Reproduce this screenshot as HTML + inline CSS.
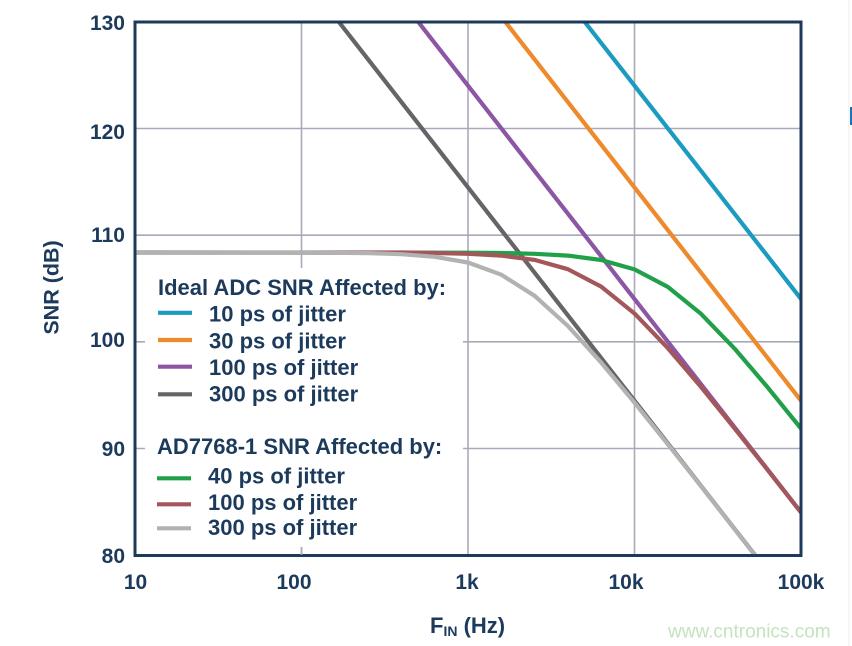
<!DOCTYPE html>
<html>
<head>
<meta charset="utf-8">
<style>
  html, body { margin:0; padding:0; background:#ffffff; }
  body { width:852px; height:646px; overflow:hidden; }
  svg { display:block; }
  text { font-family:"Liberation Sans", Arial, sans-serif; }
</style>
</head>
<body>
<svg width="852" height="646" viewBox="0 0 852 646" xmlns="http://www.w3.org/2000/svg">
  <defs>
    <clipPath id="plot">
      <rect x="135" y="22" width="666" height="533.5"/>
    </clipPath>
  </defs>
  <rect x="0" y="0" width="852" height="646" fill="#ffffff"/>
  <!-- right edge decorations -->
  <rect x="848.5" y="0" width="1" height="646" fill="#ececec"/>
  <rect x="850" y="107" width="2" height="18" fill="#1a73c0"/>

  <!-- gridlines -->
  <g stroke="#a9a9ba" stroke-width="1.6" fill="none">
    <line x1="135" y1="128.5" x2="801" y2="128.5"/>
    <line x1="135" y1="235.2" x2="801" y2="235.2"/>
    <line x1="135" y1="341.8" x2="801" y2="341.8"/>
    <line x1="135" y1="448.5" x2="801" y2="448.5"/>
    <line x1="301.5" y1="22" x2="301.5" y2="555"/>
    <line x1="468" y1="22" x2="468" y2="555"/>
    <line x1="634.5" y1="22" x2="634.5" y2="555"/>
  </g>
  <!-- legend background -->
  <rect x="145" y="268" width="318" height="279" fill="#ffffff"/>

  <g clip-path="url(#plot)" fill="none" stroke-width="4.2" stroke-linejoin="round" stroke-linecap="butt">
    <!-- ideal lines -->
    <line x1="584.8" y1="22" x2="801" y2="298.9" stroke="#1b9bbf"/>
    <line x1="505.4" y1="22" x2="801" y2="400.7" stroke="#ee8a2c"/>
    <line x1="418.3" y1="22" x2="801" y2="512.3" stroke="#8c56a4"/>
    <line x1="338.9" y1="22" x2="755.2" y2="555.3" stroke="#656567"/>
    <!-- AD7768-1 curves -->
    <polyline stroke="#21a04a" points="135,252.5 468,252.7 501.3,253.0 534.6,253.8 567.9,255.6 601.2,260.0 634.5,269.4 667.8,286.9 701.1,313.9 734.4,348.4 767.7,387.4 801,428.5"/>
    <polyline stroke="#a4575a" points="135,252.5 401.4,252.5 434.7,253.0 468,253.8 501.3,255.6 534.6,259.9 567.9,269.2 601.2,286.6 634.5,313.5 667.8,348.1 701.1,387.0 734.4,428.2 767.7,470.1 801,512.5"/>
    <polyline stroke="#b2b2b2" points="135,252.5 301.5,252.6 334.8,252.8 368.1,253.1 401.4,254.2 434.7,256.8 468,262.5 501.3,274.7 534.6,295.8 567.9,326.0 601.2,362.6 634.5,402.6 667.8,444.2 701.1,486.3 734.4,528.9 755.2,555.5"/>
  </g>

  <!-- frame -->
  <rect x="135" y="22" width="666" height="533.5" fill="none" stroke="#1d3a5a" stroke-width="3"/>
  <!-- small ticks visible at bottom/ top of legend area -->
  <line x1="301.5" y1="547" x2="301.5" y2="555" stroke="#a9a9ba" stroke-width="1.6"/>

  <!-- y tick labels -->
  <g font-size="21" font-weight="bold" fill="#1c3a5c" text-anchor="end">
    <text x="125" y="30">130</text>
    <text x="125" y="139">120</text>
    <text x="125" y="242">110</text>
    <text x="125" y="347">100</text>
    <text x="125" y="456">90</text>
    <text x="125" y="563">80</text>
  </g>
  <!-- x tick labels -->
  <g font-size="21" font-weight="bold" fill="#1c3a5c" text-anchor="middle">
    <text x="135.5" y="589">10</text>
    <text x="294" y="589">100</text>
    <text x="467" y="589">1k</text>
    <text x="626" y="589">10k</text>
    <text x="801" y="589">100k</text>
  </g>
  <!-- axis titles -->
  <text x="0" y="0" font-size="21.5" font-weight="bold" fill="#1c3a5c" text-anchor="middle" transform="translate(58.5,287.5) rotate(-90)">SNR (dB)</text>
  <text x="430" y="633" font-size="22" font-weight="bold" fill="#1c3a5c">F<tspan font-size="14" dy="3">IN</tspan><tspan dy="-3"> (Hz)</tspan></text>

  <!-- legend -->
  <g font-size="22" font-weight="bold" fill="#1c3a5c">
    <text x="158" y="295">Ideal ADC SNR Affected by:</text>
    <text x="209" y="321.7">10 ps of jitter</text>
    <text x="209" y="348.3">30 ps of jitter</text>
    <text x="209" y="375">100 ps of jitter</text>
    <text x="209" y="401.7">300 ps of jitter</text>
    <text x="157" y="454">AD7768-1 SNR Affected by:</text>
    <text x="208" y="483.3">40 ps of jitter</text>
    <text x="208" y="510">100 ps of jitter</text>
    <text x="208" y="535">300 ps of jitter</text>
  </g>
  <g stroke-width="4.2" fill="none">
    <line x1="158" y1="312.8" x2="192" y2="312.8" stroke="#1b9bbf"/>
    <line x1="158" y1="340" x2="192" y2="340" stroke="#ee8a2c"/>
    <line x1="158" y1="366.7" x2="192" y2="366.7" stroke="#8c56a4"/>
    <line x1="158" y1="394.3" x2="192" y2="394.3" stroke="#656567"/>
    <line x1="157" y1="478.3" x2="191" y2="478.3" stroke="#21a04a"/>
    <line x1="157" y1="504.3" x2="191" y2="504.3" stroke="#a4575a"/>
    <line x1="157" y1="528.3" x2="191" y2="528.3" stroke="#b2b2b2"/>
  </g>

  <!-- watermark -->
  <text x="668" y="637.5" font-size="19" fill="#c3e4bd">www.cntronics.com</text>
</svg>
</body>
</html>
